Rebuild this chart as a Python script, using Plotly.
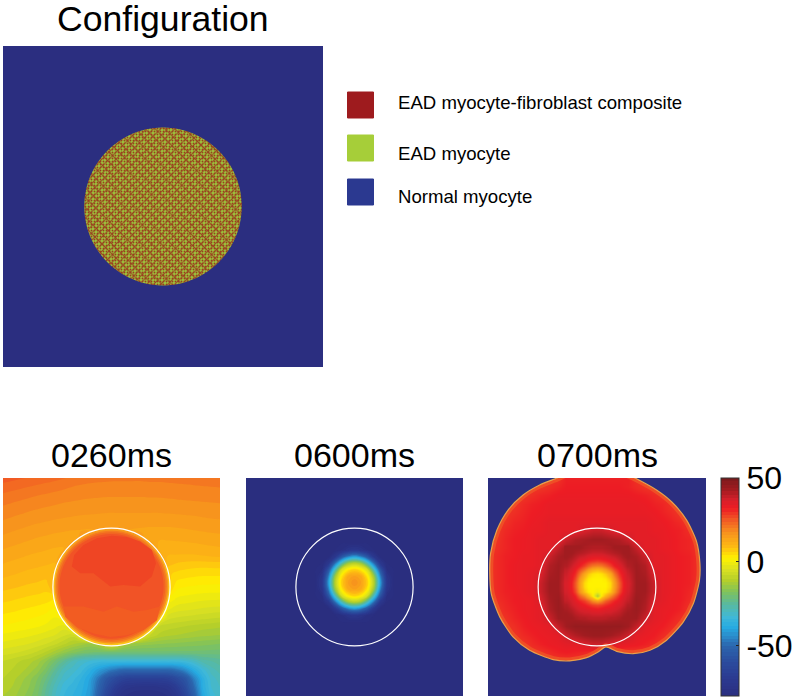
import plotly.graph_objects as go

W, H = 798, 700

TITLES = ["Configuration", "0260ms", "0600ms", "0700ms"]
LEGEND_LABELS = ["EAD myocyte-fibroblast composite", "EAD myocyte", "Normal myocyte"]
LEGEND_COLORS = ["#9e1b1e", "#a6ce39", "#2b3990"]
CBAR_TICKS = [50, 0, -50]

# Membrane voltage scale
SCALE_VALUES = [-80, -70, -60, -50, -45, -39, -33, -25, -18, -11, -5, 2, 9, 17, 25, 32, 37, 43, 50]
SCALE_COLORS = ["#2a2e7f", "#2b3990", "#2b4b9d", "#2b66ae", "#2b88c8", "#27aae1", "#3fb8d8", "#5bb99b",
                "#7fc25c", "#b5cf2a", "#d7df23", "#fff200", "#fdb913", "#f7941d", "#f15a24", "#ed1c24",
                "#d4202a", "#a11c20", "#7a1a1c"]

# Configuration: outline of the EAD region (axis units 0-100)
DISC_X = [74.6, 73.76, 71.3, 67.39, 62.3, 56.37, 50, 43.63, 37.7, 32.61, 28.7, 26.24,
          25.4, 26.24, 28.7, 32.61, 37.7, 43.63, 50, 56.37, 62.3, 67.39, 71.3, 73.76, 74.6]
DISC_Y = [50, 56.37, 62.3, 67.39, 71.3, 73.76, 74.6, 73.76, 71.3, 67.39, 62.3, 56.37,
          50, 43.63, 37.7, 32.61, 28.7, 26.24, 25.4, 26.24, 28.7, 32.61, 37.7, 43.63, 50]

GRID = [0, 4, 8, 12, 16, 20, 24, 28, 32, 36, 40, 44, 48, 52, 56, 60, 64, 68, 72, 76, 80, 84, 88, 92, 96, 100]
GRID_Y_DOWN = GRID[::-1]

# 0260 ms, rows from y=100 down to y=0
V260 = [
    [25, 24.6, 24.2, 23.8, 23.4, 23, 22.6, 22.1, 21.6, 21.1, 20.8, 20.6, 20.5, 20.4, 20.4, 20.4, 20.4, 20.5, 20.5, 20.6, 20.7, 20.8, 20.9, 21, 21.1, 21.2],
    [23.2, 22.8, 22.4, 22, 21.6, 21.2, 20.8, 20.4, 20, 19.7, 19.5, 19.4, 19.3, 19.3, 19.3, 19.3, 19.3, 19.4, 19.4, 19.5, 19.6, 19.7, 19.8, 19.9, 20, 20.1],
    [21.6, 21.2, 20.8, 20.4, 20, 19.7, 19.4, 19.1, 18.8, 18.6, 18.4, 18.3, 18.2, 18.2, 18.2, 18.2, 18.2, 18.3, 18.3, 18.4, 18.5, 18.6, 18.7, 18.8, 18.9, 19],
    [20.2, 19.8, 19.4, 19, 18.7, 18.4, 18.1, 17.8, 17.6, 17.4, 17.3, 17.2, 17.1, 17.1, 17.1, 17.1, 17.1, 17.1, 17.2, 17.3, 17.4, 17.5, 17.6, 17.7, 17.8, 17.9],
    [19, 18.6, 18.2, 17.8, 17.5, 17.2, 16.9, 16.7, 16.5, 16.3, 16.2, 16.1, 16, 16, 16, 16, 16, 16, 16, 16.1, 16.2, 16.3, 16.4, 16.6, 16.7, 16.8],
    [17.8, 17.4, 17, 16.6, 16.3, 16, 15.7, 15.5, 15.3, 15.2, 15.1, 15, 15, 15, 15, 15, 14.9, 14.8, 14.8, 14.8, 14.9, 15, 15.2, 15.4, 15.6, 15.7],
    [16.6, 16.2, 15.8, 15.4, 15, 14.7, 14.4, 14.2, 14, 13.9, 13.8, 14.2, 16, 16, 14.2, 13.8, 13.6, 13.5, 13.5, 13.5, 13.6, 13.8, 14, 14.2, 14.4, 14.5],
    [15.4, 15, 14.6, 14.2, 13.8, 13.5, 13.2, 13, 12.8, 15, 25, 28, 29, 29, 28, 25, 15, 12.4, 12.2, 12.2, 12.3, 12.4, 12.6, 12.8, 13, 13.2],
    [14.2, 13.8, 13.4, 13, 12.6, 12.3, 12, 11.8, 18, 29, 30, 30, 30, 30, 30, 30, 29, 18, 11, 11, 11.1, 11.2, 11.3, 11.5, 11.7, 11.9],
    [13, 12.6, 12.2, 11.8, 11.5, 11.2, 10.9, 14, 29, 30, 30, 30, 30, 30, 30, 30, 30, 29, 14, 9.8, 9.7, 9.6, 9.6, 9.8, 10, 10.2],
    [11.8, 11.4, 11, 10.6, 10.3, 10, 9.7, 25, 30, 30, 30, 30, 30, 30, 30, 30, 30, 30, 25, 8.3, 7.5, 7, 6.7, 6.6, 6.7, 6.8],
    [10.6, 10.2, 9.8, 9.4, 9.1, 8.8, 8.5, 29, 29, 29, 29, 29, 29, 29, 29, 29, 29, 29, 29, 6.5, 5.4, 5, 4.7, 4.5, 4.5, 4.5],
    [9.3, 9, 8.6, 8.2, 7.9, 7.6, 11, 28, 28, 28, 28, 28, 28, 28, 28, 28, 28, 28, 28, 7, 3.6, 3, 2.7, 2.5, 2.4, 2.4],
    [7.9, 7.6, 7.2, 6.8, 6.5, 6.1, 9, 27, 27, 27, 27, 27, 27, 27, 27, 27, 27, 27, 27, 5.5, 1.6, 1, 0.7, 0.5, 0.4, 0.3],
    [6.4, 6.1, 5.7, 5.3, 5, 4.6, 4, 26, 26, 26, 26, 26, 26, 26, 26, 26, 26, 26, 26, 1.4, -0.6, -1.1, -1.5, -1.8, -2, -2.1],
    [4.9, 4.6, 4.2, 3.8, 3.4, 2.8, 1.5, 20, 25, 25, 25, 25, 25, 25, 25, 25, 25, 25, 20, -1.5, -3, -3.4, -3.8, -4.2, -4.5, -4.7],
    [3.4, 3.1, 2.7, 2.3, 1.8, 1.1, 0, 4, 25, 25, 25, 25, 25, 25, 25, 25, 25, 25, 3, -5, -6, -6.4, -6.8, -7.2, -7.6, -7.9],
    [1.8, 1.5, 1.1, 0.7, 0.2, -0.5, -1.5, -3, 6, 24, 25, 25, 25, 25, 25, 25, 24, 5, -8, -9, -9.5, -10, -10.5, -11, -11.3, -11.7],
    [-0.3, -0.7, -1.1, -1.6, -2.2, -3, -4, -5.5, -7, 0, 18, 24, 25, 25, 24, 17, -1, -8, -10.5, -11.5, -12, -12.5, -13, -13.4, -13.7, -14],
    [-2.5, -2.9, -3.4, -4, -4.8, -6, -7.5, -9.5, -11.5, -13, -14, -12, -6, -6, -12, -14, -15, -15.4, -15.8, -16.1, -16.4, -16.7, -17, -17.3, -17.6, -18],
    [-5, -5.5, -6.2, -7.2, -8.5, -10.5, -13, -15.5, -17.5, -19, -20, -20.3, -20.5, -20.6, -20.6, -20.6, -20.6, -20.6, -20.6, -20.6, -20.6, -20.6, -20.6, -20.7, -20.9, -21],
    [-8, -9, -10, -11, -13, -16, -20, -24, -28, -31, -32, -33, -33, -33, -33, -33, -33, -33, -33, -33, -33, -32, -30, -27, -26, -25],
    [-9, -10, -11, -13, -15, -19, -24, -29, -31, -33, -37, -41, -45, -48, -50, -50, -50, -50, -50, -50, -48, -44, -38, -33, -29, -27],
    [-10, -11, -13, -15, -18, -22, -27, -31, -33, -36, -40, -48, -56, -61, -65, -66, -66, -66, -66, -65, -61, -56, -46, -37, -31, -29],
    [-11, -12, -14, -16, -19, -24, -29, -33, -35, -37, -41, -51, -60, -68, -73, -74, -75, -75, -74, -73, -68, -60, -50, -38, -32, -30],
    [-12, -13, -15, -17, -20, -25, -30, -34, -36, -38, -42, -53, -64, -72, -76, -78, -78, -78, -78, -76, -72, -64, -53, -40, -33, -31],
]

# 0260 ms, the disc: nested edge layers (centre x, centre y, radius, colour)
DISC_LAYERS = [
    (50, 49.6, 26.7, "#fbc31a"),
    (50, 50.2, 26.2, "#f7941d"),
    (50, 50.3, 25.5, "#f47a20"),
    (50, 50.3, 24.8, "#f26522"),
    (50, 50.3, 24.0, "#f15326"),
]
DISC_UPPER_X = [31.7, 35.6, 41.7, 49.4, 55.5, 63.2, 68.6, 70.5, 68.6, 63.2, 57, 50.2, 43.3, 37.1, 32.8]
DISC_UPPER_Y = [59.4, 56.3, 56.3, 50.2, 50.9, 50.2, 54.8, 60.9, 67, 70.9, 72.9, 73.5, 72.4, 69.3, 64.7]
DISC_LOWER_X = [27.9, 37.1, 46.3, 52.5, 60.1, 66.3, 72.4, 70.9, 64.7, 57.1, 49.4, 41.7, 34, 28.7]
DISC_LOWER_Y = [41, 41, 38.7, 41, 38.7, 39.4, 41, 34.8, 30.2, 27.9, 27.1, 28.7, 31.7, 36.3]

# 0600 ms
X600 = [0, 32, 35, 38, 41, 44, 47, 50, 53, 56, 59, 62, 65, 68, 100]
Y600_DOWN = [100, 70, 67, 64, 61, 58, 55, 52, 49, 46, 43, 40, 37, 34, 0]
V600 = [
    [-80, -80, -80, -80, -80, -80, -80, -80, -80, -80, -80, -80, -80, -80, -80],
    [-80, -80, -80, -80, -80, -80, -80, -80, -80, -80, -80, -80, -80, -80, -80],
    [-80, -80, -80, -80, -80, -78, -74, -72, -74, -78, -80, -80, -80, -80, -80],
    [-80, -80, -80, -80, -72, -57, -47, -42, -47, -57, -72, -80, -80, -80, -80],
    [-80, -80, -80, -72, -50, -30, -15, -11, -15, -30, -50, -72, -80, -80, -80],
    [-80, -80, -78, -57, -30, -6, 3, 6, 3, -6, -30, -57, -78, -80, -80],
    [-80, -80, -74, -47, -15, 3, 12, 14, 12, 3, -15, -47, -74, -80, -80],
    [-80, -80, -72, -42, -11, 6, 14, 18, 14, 6, -11, -42, -72, -80, -80],
    [-80, -80, -74, -47, -15, 3, 12, 14, 12, 3, -15, -47, -74, -80, -80],
    [-80, -80, -78, -57, -30, -6, 3, 6, 3, -6, -30, -57, -78, -80, -80],
    [-80, -80, -80, -72, -50, -30, -15, -11, -15, -30, -50, -72, -80, -80, -80],
    [-80, -80, -80, -80, -72, -57, -47, -42, -47, -57, -72, -80, -80, -80, -80],
    [-80, -80, -80, -80, -80, -78, -74, -72, -74, -78, -80, -80, -80, -80, -80],
    [-80, -80, -80, -80, -80, -80, -80, -80, -80, -80, -80, -80, -80, -80, -80],
    [-80, -80, -80, -80, -80, -80, -80, -80, -80, -80, -80, -80, -80, -80, -80],
]

# 0700 ms
V700 = [
    [29, 29, 29, 29, 29, 29, 29, 29, 29.5, 31.5, 31.5, 31.5, 31.5, 31.5, 31.5, 31.5, 31.5, 29.5, 29, 29, 29, 29, 29, 29, 29, 29],
    [29, 29, 29, 29, 29, 29, 29, 30, 31, 32, 32, 32, 32, 32, 32, 32, 31.5, 30.5, 29.5, 29, 29, 29, 29, 29, 29, 29],
    [29, 29, 29, 29, 29, 30, 31, 31.5, 32.5, 32.5, 32.5, 32.5, 32.5, 32.5, 32.5, 32.5, 32.5, 32, 31.5, 30.5, 29.5, 29, 29, 29, 29, 29],
    [29, 29, 29, 29, 30.5, 31.5, 32, 33, 33, 33, 33, 33, 33, 33, 33, 33, 33, 33, 32.5, 31.5, 31, 29.5, 29, 29, 29, 29],
    [29, 29, 29, 30, 31, 32, 32.5, 33, 33, 33, 33, 33, 33, 33, 33, 33, 33, 33, 33, 32.5, 31.5, 30.5, 29, 29, 29, 29],
    [29, 29, 29.5, 31, 31.5, 32.5, 33, 34, 34, 34, 34, 34, 34, 34, 34, 34, 34, 34, 34, 33, 32.5, 31.5, 30.5, 29, 29, 29],
    [29, 29, 30.5, 31.5, 32, 33, 33, 34, 34, 34, 34, 36, 38, 38, 36, 34, 34, 34, 34, 33, 33, 32, 31.5, 30, 29, 29],
    [29, 29.5, 31, 32, 32.5, 33, 34, 34, 34, 38, 41, 42, 43, 43, 42, 41, 38, 34, 34, 34, 33, 32.5, 31.5, 31, 29, 29],
    [29, 30, 31, 32, 32.5, 33, 34, 34, 39, 43, 43, 43, 41, 41, 43, 43, 43, 39, 34, 34, 33, 32.5, 31.5, 31, 29.5, 29],
    [29, 30.5, 31.5, 32, 33, 33, 34, 38, 42, 43, 40, 37, 34, 34, 37, 40, 43, 42, 38, 34, 34, 33, 32, 31.5, 30, 29],
    [29, 30.5, 31.5, 32.5, 33, 33, 34, 41, 43, 41, 35, 28, 21, 21, 28, 35, 41, 43, 41, 34, 34, 33, 32, 31.5, 30, 29],
    [29, 30.5, 31.5, 32.5, 33, 34, 36, 42, 43, 38, 30, 13, 4, 4, 13, 30, 38, 43, 42, 36, 34, 33, 32, 31.5, 30, 29],
    [29, 30.5, 31.5, 32.5, 33, 34, 38, 43, 43, 36, 25, 5, 2, 2, 5, 25, 36, 43, 43, 38, 34, 33, 32, 31.5, 29.5, 29],
    [29, 30.5, 31.5, 32, 33, 34, 38, 43, 43, 37, 27, 8, 2, 2, 8, 27, 37, 43, 43, 38, 34, 33, 32, 31, 29, 29],
    [29, 30, 31, 32, 32.5, 33, 36, 42, 44, 39, 34, 28, 18, 18, 28, 34, 39, 44, 42, 36, 34, 32.5, 32, 30.5, 29, 29],
    [29, 29, 30.5, 31.5, 32.5, 33, 34, 41, 44, 42, 38, 35, 33, 33, 35, 38, 42, 44, 41, 34, 33, 32.5, 31.5, 29.5, 29, 29],
    [29, 29, 29.5, 31, 32, 33, 34, 38, 43, 43, 42, 41, 40, 40, 41, 42, 43, 43, 38, 34, 33, 31.5, 30, 29, 29, 29],
    [29, 29, 29, 30, 31.5, 32.5, 33, 34, 39, 43, 45, 45, 45, 45, 45, 45, 43, 39, 34, 33, 32, 30.5, 29, 29, 29, 29],
    [29, 29, 29, 29, 30.5, 31.5, 32.5, 33, 34, 38, 41, 43, 44, 44, 43, 41, 38, 34, 33, 32, 30.5, 29, 29, 29, 29, 29],
    [29, 29, 29, 29, 29, 30.5, 31.5, 32.5, 33, 34, 34, 36, 38, 38, 36, 34, 33, 32.5, 31.5, 30.5, 29, 29, 29, 29, 29, 29],
    [29, 29, 29, 29, 29, 29, 29.5, 30.5, 31.5, 32, 31.5, 31, 30, 29, 29, 29, 29, 29, 29, 29, 29, 29, 29, 29, 29, 29],
    [29, 29, 29, 29, 29, 29, 29, 29, 29, 29, 29, 29, 29, 29, 29, 29, 29, 29, 29, 29, 29, 29, 29, 29, 29, 29],
    [29, 29, 29, 29, 29, 29, 29, 29, 29, 29, 29, 29, 29, 29, 29, 29, 29, 29, 29, 29, 29, 29, 29, 29, 29, 29],
    [29, 29, 29, 29, 29, 29, 29, 29, 29, 29, 29, 29, 29, 29, 29, 29, 29, 29, 29, 29, 29, 29, 29, 29, 29, 29],
    [29, 29, 29, 29, 29, 29, 29, 29, 29, 29, 29, 29, 29, 29, 29, 29, 29, 29, 29, 29, 29, 29, 29, 29, 29, 29],
    [29, 29, 29, 29, 29, 29, 29, 29, 29, 29, 29, 29, 29, 29, 29, 29, 29, 29, 29, 29, 29, 29, 29, 29, 29, 29],
]

# 0700 ms, finer samples round the central spot
SPOT_X = [36, 38, 40, 42, 44, 46, 48, 50, 52, 54, 56, 58, 60, 62, 64]
SPOT_Y_DOWN = [68, 66, 64, 62, 60, 58, 56, 54, 52, 50, 48, 46, 44, 42, 40, 38, 36]
SPOT = [
    [43, 43, 43, 43, 42, 41.5, 41, 41, 41, 41.5, 42, 43, 43, 43, 43],
    [43, 43, 42, 41, 40, 39, 38, 38, 38, 39, 40, 41, 42, 43, 43],
    [43, 42, 40, 38, 37, 35, 34, 34, 34, 35, 37, 38, 40, 42, 43],
    [42, 40, 38, 35, 33, 31, 30, 29, 30, 31, 33, 35, 38, 40, 42],
    [41, 38, 35, 32, 28, 24, 21, 20, 21, 24, 28, 32, 35, 38, 41],
    [39, 36, 32, 27, 21, 15, 11, 9, 11, 15, 21, 27, 32, 36, 39],
    [38, 34, 30, 22, 13, 7, 4, 3, 4, 7, 13, 22, 30, 34, 38],
    [37, 33, 27, 17, 8, 3, 2, 2, 2, 3, 8, 17, 27, 33, 37],
    [36, 32, 25, 15, 5, 2, 2, 2, 2, 2, 5, 15, 25, 32, 36],
    [36, 32, 25, 15, 5, 2, 2, 2, 2, 2, 5, 15, 25, 32, 36],
    [37, 33, 27, 17, 8, 3, 2, 0, 2, 3, 8, 17, 27, 33, 37],
    [38, 35, 31, 24, 18, 10, 3, -12, 3, 10, 18, 24, 31, 35, 38],
    [39, 37, 34, 31, 28, 24, 18, 14, 18, 24, 28, 31, 34, 37, 39],
    [41, 38, 36, 34, 32, 30, 28, 27, 28, 30, 32, 34, 36, 38, 41],
    [42, 40, 38, 36, 35, 34, 33, 32, 33, 34, 35, 36, 38, 40, 42],
    [43, 42, 40, 39, 38, 38, 37, 37, 37, 38, 38, 39, 40, 42, 43],
    [43, 43, 42, 41, 41, 40, 40, 40, 40, 40, 41, 41, 42, 43, 43],
]

# 0700 ms, wavefront outline from the top-left round to the top-right
FRONT_X = [36, 31.7, 23.7, 16.1, 9.2, 4.1, 1.2, 0.8, 1.5, 5.4, 11.5, 19.1, 29.9, 37.5, 45.2, 50.5, 54.1,
           59, 66.6, 74.3, 81.9, 89.6, 94.2, 97, 97.2, 95.7, 91.1, 84.2, 77.3, 67.4, 63]
FRONT_Y = [102, 100, 96.8, 92.2, 85.3, 76.1, 65.4, 57, 47, 36.3, 27.1, 21, 16.7, 16.1, 17.6, 20.2, 22.5,
           20.5, 19.4, 21, 25.6, 34, 42.4, 53.1, 60.8, 70.7, 80.7, 89.1, 94.5, 100, 102]

CIRCLE_CENTER = (50, 50)
CIRCLE_RADIUS = 27

BLUE = "#2b2e80"
cmin, cmax = -80, 50
colorscale = [[(v - cmin) / (cmax - cmin), c] for v, c in zip(SCALE_VALUES, SCALE_COLORS)]
colorbar = dict(
    x=721 / W, xanchor="left", y=1 - 696 / H, yanchor="bottom",
    lenmode="pixels", len=218, thicknessmode="pixels", thickness=18,
    tickvals=CBAR_TICKS, ticktext=[str(t) for t in CBAR_TICKS],
    ticks="inside", ticklen=3, tickcolor="#222222", tickwidth=1,
    tickfont=dict(size=32, family="Liberation Sans, Arial, sans-serif"),
    outlinecolor="#333333", outlinewidth=1, xpad=0, ypad=0,
)


def xdom(a, b):
    return [a / W, b / W]


def ydom(top, bottom):
    return [1 - bottom / H, 1 - top / H]


PANELS = {
    "": ((3, 323), (46, 367)),
    "2": ((3, 220), (478, 696)),
    "3": ((246, 463), (478, 696)),
    "4": ((488, 706), (478, 696)),
}

fig = go.Figure()


def field(x, y_down, rows, axis, bar=False):
    fig.add_trace(go.Contour(
        x=x, y=y_down[::-1], z=rows[::-1], xaxis="x" + axis, yaxis="y" + axis,
        colorscale=colorscale, zmin=cmin, zmax=cmax, zauto=False,
        showscale=bar, colorbar=colorbar if bar else None, autocontour=False,
        contours=dict(start=cmin, end=cmax, size=2, coloring="fill", showlines=False),
        line=dict(width=0, smoothing=1.3), hoverinfo="skip",
    ))


def smooth_field(x, y_down, rows, axis):
    fig.add_trace(go.Heatmap(
        x=x, y=y_down[::-1], z=rows[::-1], xaxis="x" + axis, yaxis="y" + axis,
        colorscale=colorscale, zmin=cmin, zmax=cmax, zauto=False, showscale=False,
        zsmooth="best", hoverinfo="skip",
    ))


# Configuration: the mixed disc, overlaid textures
TEXTURES = [(".", 3, 0.30, "#9cc63c"), ("/", 5, 0.20, "rgba(0,0,0,0)"), ("\\", 7, 0.15, "rgba(0,0,0,0)")]
for shape, size, solidity, bg in TEXTURES:
    fig.add_trace(go.Scatter(
        x=DISC_X, y=DISC_Y, mode="lines", line=dict(width=0, shape="spline"), fill="toself",
        fillcolor="rgba(0,0,0,0)", hoverinfo="skip",
        fillpattern=dict(shape=shape, size=size, solidity=solidity, fgcolor="#9a3f1e", bgcolor=bg, fillmode="replace"),
    ))

field(GRID, GRID_Y_DOWN, V260, "2")
field(X600, Y600_DOWN, V600, "3", bar=True)
smooth_field(GRID, GRID_Y_DOWN, V700, "4")
smooth_field(SPOT_X, SPOT_Y_DOWN, SPOT, "4")

# Unreached tissue outside the 0700 ms wavefront
fig.add_trace(go.Scatter(
    x=FRONT_X, y=FRONT_Y, xaxis="x4", yaxis="y4", mode="lines",
    line=dict(width=7, color="#ef4e26", shape="spline", smoothing=0.7), hoverinfo="skip",
))
fig.add_trace(go.Scatter(
    x=[-30] + FRONT_X + [130, 130, -30, -30], y=[130] + FRONT_Y + [130, -30, -30, 130],
    xaxis="x4", yaxis="y4", mode="lines", line=dict(width=0, shape="spline", smoothing=0.7),
    fill="toself", fillcolor=BLUE, hoverinfo="skip",
))
fig.add_trace(go.Scatter(
    x=FRONT_X, y=FRONT_Y, xaxis="x4", yaxis="y4", mode="lines",
    line=dict(width=1.2, color="#e8a04a", shape="spline", smoothing=0.7), hoverinfo="skip",
))

layout = dict(
    width=W, height=H, margin=dict(l=0, r=0, t=0, b=0), showlegend=False,
    paper_bgcolor="white", plot_bgcolor=BLUE,
    font=dict(family="Liberation Sans, Arial, sans-serif", color="black"),
)
for suffix, (xs, ys) in PANELS.items():
    common = dict(range=[0, 100], visible=False, fixedrange=True)
    layout["xaxis" + suffix] = dict(domain=xdom(*xs), anchor="y" + suffix, **common)
    layout["yaxis" + suffix] = dict(domain=ydom(*ys), anchor="x" + suffix, **common)


def polygon_path(xs, ys):
    return "M " + " L ".join(f"{x},{y}" for x, y in zip(xs, ys)) + " Z"


shapes = []
for cx, cy, r, color in DISC_LAYERS:
    shapes.append(dict(
        type="circle", xref="x2", yref="y2", x0=cx - r, x1=cx + r, y0=cy - r, y1=cy + r,
        fillcolor=color, line=dict(width=0), layer="above",
    ))
for xs, ys, color in [(DISC_UPPER_X, DISC_UPPER_Y, "#ef4524"), (DISC_LOWER_X, DISC_LOWER_Y, "#f25c22")]:
    shapes.append(dict(
        type="path", xref="x2", yref="y2", path=polygon_path(xs, ys),
        fillcolor=color, line=dict(width=0), layer="above",
    ))
for suffix in ["2", "3", "4"]:
    cx, cy = CIRCLE_CENTER
    shapes.append(dict(
        type="circle", xref="x" + suffix, yref="y" + suffix,
        x0=cx - CIRCLE_RADIUS, x1=cx + CIRCLE_RADIUS, y0=cy - CIRCLE_RADIUS, y1=cy + CIRCLE_RADIUS,
        line=dict(color="white", width=1.2), layer="above",
    ))
SWATCH_TOPS = [92, 135, 179]
for top, color in zip(SWATCH_TOPS, LEGEND_COLORS):
    shapes.append(dict(
        type="rect", xref="paper", yref="paper", x0=347.5 / W, x1=373.5 / W,
        y0=1 - (top + 26) / H, y1=1 - top / H, fillcolor=color, line=dict(width=1, color=color),
    ))
layout["shapes"] = shapes

annotations = []
for text, cx, cy, size in zip(TITLES, [163, 111, 354, 597], [19, 455, 455, 455], [35.6, 34, 34, 34]):
    annotations.append(dict(
        text=text, xref="paper", yref="paper", x=cx / W, y=1 - cy / H, showarrow=False,
        xanchor="center", yanchor="middle", font=dict(size=size),
    ))
for text, cy in zip(LEGEND_LABELS, [103, 153, 196]):
    annotations.append(dict(
        text=text, xref="paper", yref="paper", x=395.5 / W, y=1 - cy / H, showarrow=False,
        xanchor="left", yanchor="middle", font=dict(size=18.6),
    ))
layout["annotations"] = annotations
fig.update_layout(**layout)

fig.write_html("out.html", config={"displayModeBar": False}, post_script="document.body.style.margin='0';")
